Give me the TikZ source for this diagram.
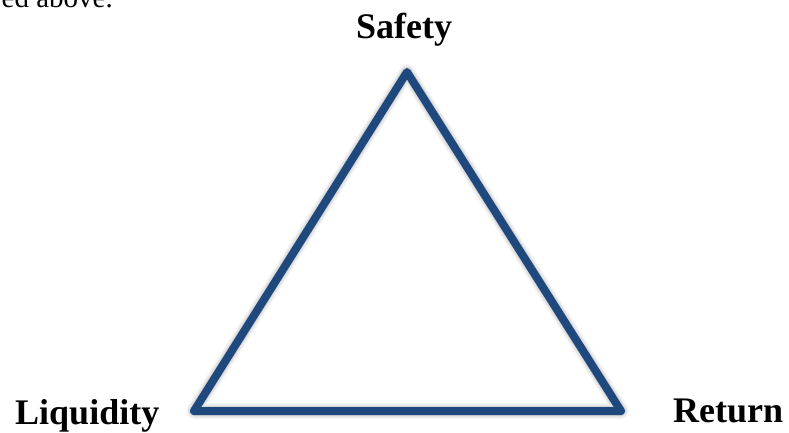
\documentclass[tikz,border=0pt]{standalone}
\usepackage{fontspec}
\setmainfont{Liberation Serif}
\definecolor{triblue}{RGB}{31,73,125}
\begin{document}
\begin{tikzpicture}[x=1pt,y=-1pt,
  lbl/.style={font=\fontsize{36}{40}\selectfont\bfseries, inner sep=0pt, anchor=base west},
  edge/.style={draw=triblue, line width=8pt, line join=round, line cap=round},
  shade/.style={draw=black, line join=round, line cap=round}]
\useasboundingbox (0,0) rectangle (789,432);
\node[font=\fontsize{29}{32}\selectfont, inner sep=0pt, anchor=base east] (prev) at (113,7) {ed above.};
\coordinate (S) at (407,72);
\coordinate (L) at (194,411);
\coordinate (R) at (621,411);
\begin{scope}[shift={(3,4)}]
  \draw[shade, line width=16pt, opacity=0.04] (S) -- (L) -- (R) -- cycle;
  \draw[shade, line width=13pt, opacity=0.06] (S) -- (L) -- (R) -- cycle;
  \draw[shade, line width=10pt, opacity=0.08] (S) -- (L) -- (R) -- cycle;
\end{scope}
\draw[edge] (S) -- (L) -- (R) -- cycle;
\node[lbl] (safety) at (356,38) {Safety};
\node[lbl] (liq) at (15,424) {Liquidity};
\node[lbl] (ret) at (673,422) {Return};
\end{tikzpicture}
\end{document}
